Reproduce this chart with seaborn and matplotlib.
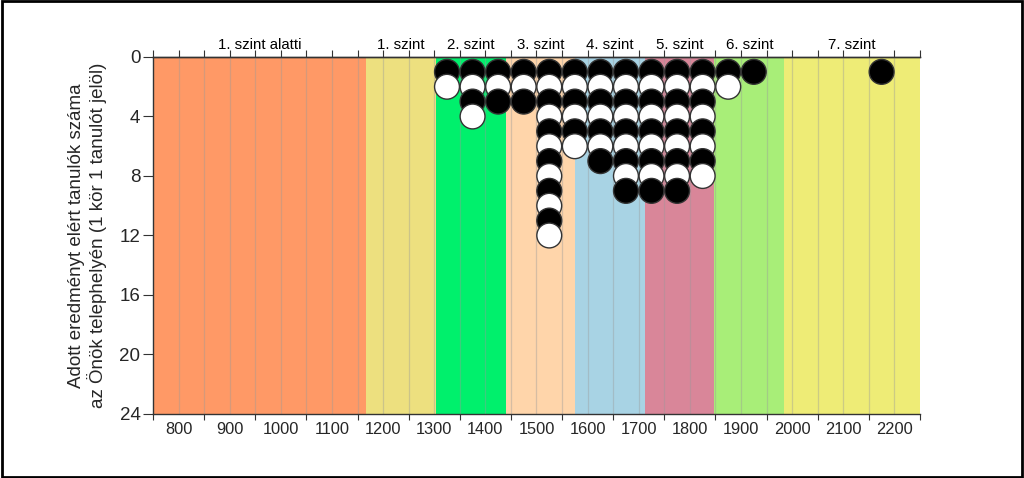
import matplotlib
matplotlib.use("Agg")
import matplotlib.pyplot as plt
import seaborn as sns
import pandas as pd
import numpy as np
from matplotlib.patches import Rectangle

# ---- data ----
band_names = ["1. szint alatti", "1. szint", "2. szint", "3. szint",
              "4. szint", "5. szint", "6. szint", "7. szint"]
band_edges = [750, 1167, 1303, 1440, 1576, 1712, 1848, 1985, 2250]
band_colors = ["#FF9966", "#EDE07F", "#00F06C", "#FFD5AA",
               "#A8D3E4", "#D98699", "#A8EE78", "#EEEC76"]

dot_x = [1325, 1375, 1425, 1475, 1525, 1575, 1625, 1675, 1725, 1775, 1825, 1875, 1925, 2175]
dot_counts = [2, 4, 3, 3, 12, 6, 7, 9, 9, 9, 8, 2, 1, 1]

xtick_labels = [800, 900, 1000, 1100, 1200, 1300, 1400, 1500, 1600,
                1700, 1800, 1900, 2000, 2100, 2200]
ytick_values = [0, 4, 8, 12, 16, 20, 24]

rows = []
for x, n in zip(dot_x, dot_counts):
    for k in range(1, n + 1):
        rows.append({"x": x, "y": k, "c": "fekete" if k % 2 == 1 else "feher"})
df = pd.DataFrame(rows)

sns.set_theme(style="white")
plt.rcParams["font.family"] = ["Liberation Sans", "DejaVu Sans"]

fig = plt.figure(figsize=(10.24, 4.78), dpi=100)
ax = fig.add_axes([0.1494, 0.1339, 0.8984 - 0.1494, 0.8808 - 0.1339])

for i, name in enumerate(band_names):
    ax.axvspan(band_edges[i], band_edges[i + 1], color=band_colors[i], lw=0, zorder=0)
    mid = (band_edges[i] + band_edges[i + 1]) / 2
    ax.text(mid, 1.015, name, transform=ax.get_xaxis_transform(),
            ha="center", va="bottom", fontsize=10.8, color="black")

grid_x = np.arange(800, 2201, 50)
ax.vlines(grid_x, 0, 24, colors="#9a9a9a", lw=0.9, alpha=0.4, zorder=1)

sns.scatterplot(data=df, x="x", y="y", hue="c",
                palette={"fekete": "black", "feher": "white"},
                s=320, edgecolor="#333333", linewidth=1.0, legend=False,
                ax=ax, zorder=3, clip_on=False)

ax.set_xlim(750, 2250)
ax.set_ylim(24, 0)
ax.set_xticks(xtick_labels)
ax.set_xticklabels([str(v) for v in xtick_labels], fontsize=11.8)
ax.set_xticks(np.arange(750, 2251, 100), minor=True)
ax.tick_params(axis="x", which="major", length=0, pad=6)
ax.tick_params(axis="x", which="minor", length=4, direction="out",
               color="#333333", width=0.8, bottom=True)
ax.set_yticks(ytick_values)
ax.set_yticklabels([str(v) for v in ytick_values], fontsize=13.5)
ax.tick_params(axis="y", length=7, direction="out", color="#333333",
               width=0.8, left=True, pad=2)
ax.set_xlabel("")
ax.set_ylabel("Adott eredményt elért tanulók száma\naz Önök telephelyén (1 kör 1 tanulót jelöl)",
              fontsize=13.5, labelpad=9, linespacing=1.15)

sec = ax.secondary_xaxis("top")
sec.set_xticks(np.arange(750, 2251, 50))
sec.set_xticklabels([])
sec.tick_params(axis="x", length=5, direction="out", color="#333333", width=0.8)
sec.spines["top"].set_color("#333333")
sec.spines["top"].set_linewidth(1.0)

for s in ["left", "bottom", "top"]:
    ax.spines[s].set_visible(True)
    ax.spines[s].set_color("#333333")
    ax.spines[s].set_linewidth(1.0)
ax.spines["right"].set_visible(False)

fig.patches.append(Rectangle((0.002, 0.003), 0.996, 0.994, transform=fig.transFigure,
                             fill=False, edgecolor="black", linewidth=2))

fig.savefig("out.png", dpi=100)
